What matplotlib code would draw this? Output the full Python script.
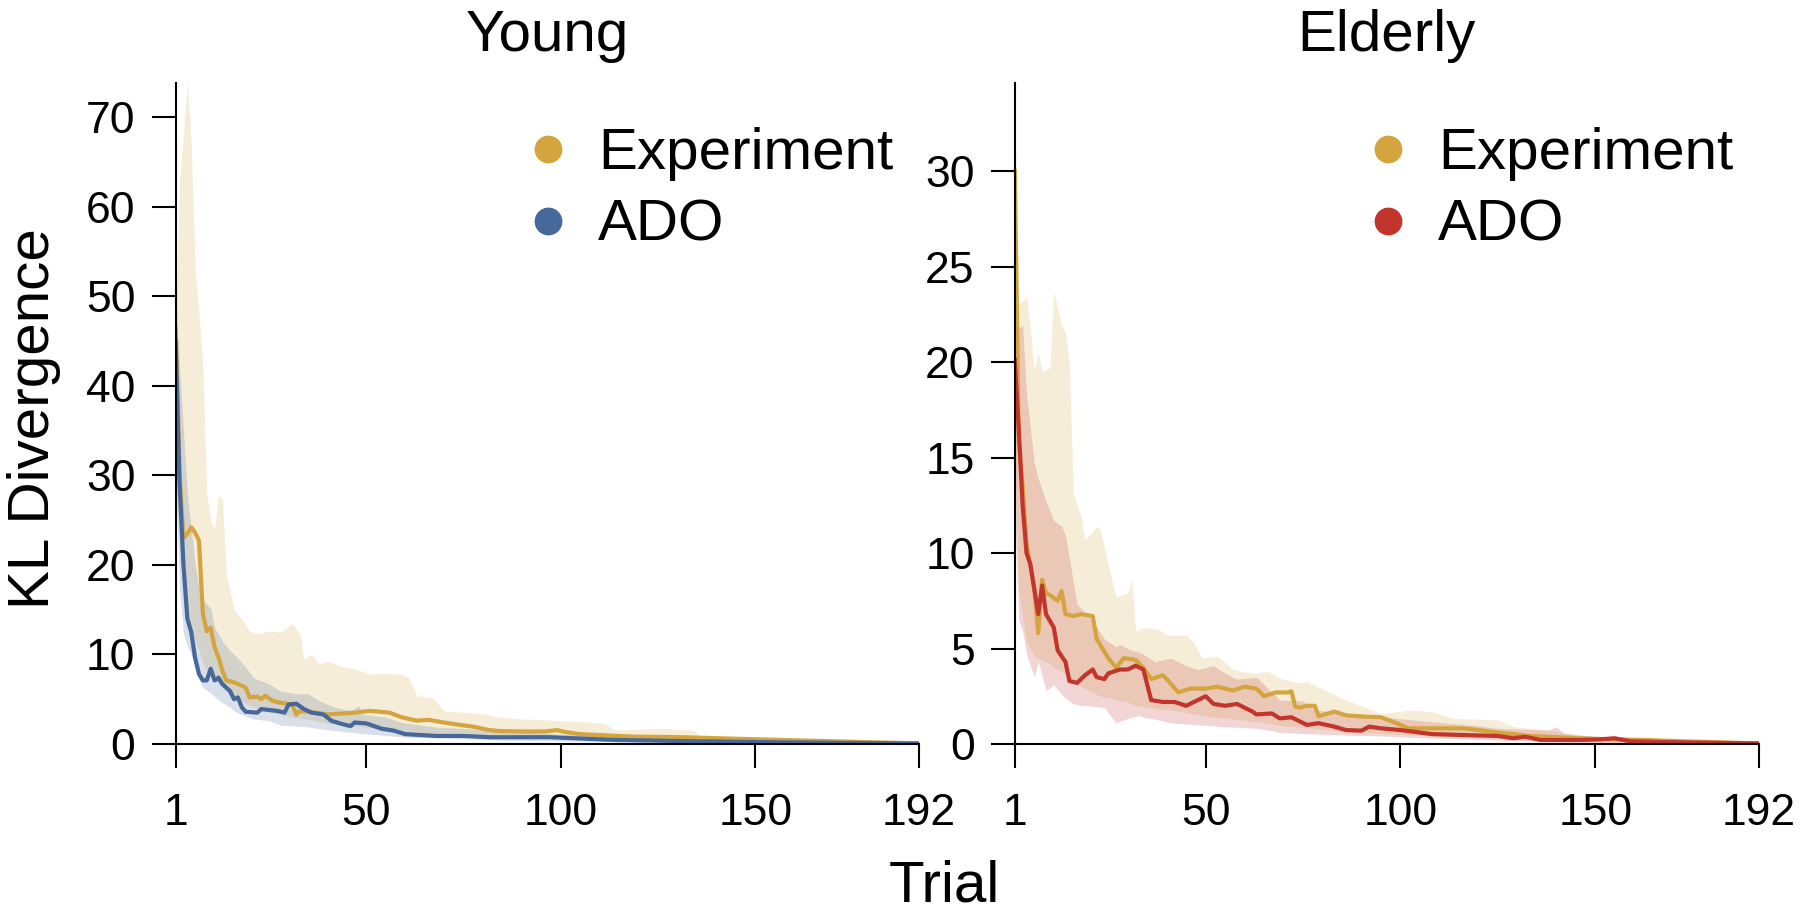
import matplotlib
matplotlib.use("Agg")
import matplotlib.pyplot as plt
import numpy as np
from matplotlib.lines import Line2D

plt.rcParams.update({"font.family": ["Liberation Sans", "DejaVu Sans"]})

GOLD, BLUE, RED = "#d4a53f", "#46689a", "#c1352d"
BAND_ALPHA = 0.2

# ---- Young -------------------------------------------------------------------------
young_exp_t = [1, 2, 3, 4, 5, 6, 7, 8, 9, 10, 11, 12, 13, 14, 16, 18, 19, 20, 22, 23, 24, 26, 28, 30,
               31, 32, 33, 37, 40, 47, 51, 56, 59, 63, 66, 70, 73, 78, 81, 84, 90, 96, 99, 101, 105,
               118, 131, 144, 157, 174, 192]
young_exp = [46.5, 30, 23.0, 23.5, 24.2, 23.6, 22.7, 14.5, 12.6, 13.0, 10.8, 9.7, 8.2, 7.1, 6.9, 6.5,
             6.3, 5.2, 5.3, 5.0, 5.4, 4.8, 4.6, 4.5, 4.4, 3.3, 3.7, 3.5, 3.3, 3.5, 3.7, 3.5, 3.0, 2.6,
             2.7, 2.4, 2.2, 1.9, 1.6, 1.45, 1.4, 1.4, 1.55, 1.35, 1.1, 0.83, 0.76, 0.6, 0.45, 0.26, 0.07]

young_ado_t = [1, 2, 3, 4, 5, 6, 7, 8, 9, 10, 11, 12, 13, 15, 16, 17, 18, 19, 22, 23, 27, 29, 30, 32,
               34, 36, 39, 41, 44, 46, 47, 50, 52, 54, 57, 60, 68, 75, 82, 97, 114, 131, 157, 192]
young_ado = [45, 29, 20, 14, 12.5, 9.6, 7.8, 7.1, 7.1, 8.4, 7.1, 7.4, 6.7, 5.9, 5.0, 5.2, 4.1, 3.6,
             3.5, 3.9, 3.7, 3.5, 4.4, 4.5, 3.9, 3.5, 3.3, 2.6, 2.2, 2.0, 2.4, 2.3, 2.0, 1.7, 1.5, 1.1,
             0.9, 0.9, 0.75, 0.76, 0.45, 0.33, 0.19, 0.05]

young_exp_band_t = [1, 2, 3, 4, 5, 6, 7, 8, 9, 10, 11, 12, 13, 14, 15, 16, 18, 20, 22, 25, 28, 31, 33,
                    34, 36, 38, 40, 44, 47, 51, 55, 59, 61, 63, 67, 70, 76, 80, 84, 88, 96, 105, 111,
                    114, 126, 134, 136, 148, 165, 180, 192]
young_exp_hi = [47, 63, 68, 74, 67, 53, 48, 42, 28, 25, 24, 27.7, 27.5, 19, 17, 15, 14, 12.6, 12.3,
                12.6, 12.5, 13.4, 12.3, 9.5, 10, 8.9, 9.3, 8.6, 8.4, 7.8, 7.9, 7.8, 7.4, 5.4, 5.2, 3.7,
                3.5, 3.4, 3.0, 2.85, 2.7, 2.5, 2.3, 1.55, 1.75, 1.55, 0.85, 0.6, 0.33, 0.18, 0.05]
young_exp_lo = [33, 22, 17, 14, 12.5, 11.5, 10.5, 9, 8, 7.5, 7, 6.8, 6.2, 5.8, 5.5, 5.2, 4.8, 4.3, 4.0,
                3.6, 3.3, 3.0, 2.9, 2.8, 2.7, 2.5, 2.3, 2.1, 2.0, 1.8, 1.6, 1.4, 1.3, 1.25, 1.15, 1.05,
                0.95, 0.9, 0.85, 0.8, 0.72, 0.6, 0.52, 0.48, 0.38, 0.32, 0.3, 0.22, 0.12, 0.06, 0.01]

young_ado_band_t = [1, 2, 3, 4, 5, 6, 7, 8, 10, 11, 13, 15, 16, 19, 21, 25, 28, 32, 35, 38, 42, 46, 48,
                    49, 51, 55, 59, 68, 84, 100, 114, 131, 150, 170, 192]
young_ado_hi = [50, 42, 35, 28, 24, 20, 17.5, 16, 15.2, 13, 11.5, 10.4, 10, 8.6, 7.4, 6.7, 5.9, 5.6,
                5.6, 4.8, 4.1, 3.7, 4.3, 3.3, 3.2, 3.0, 2.4, 1.9, 1.5, 1.1, 0.8, 0.55, 0.35, 0.2, 0.05]
young_ado_lo = [30, 17, 12.3, 11, 10, 8.8, 7.2, 6.3, 5.7, 5.3, 4.6, 4.1, 3.7, 3.1, 2.8, 2.6, 2.1, 2.0,
                1.9, 1.7, 1.5, 1.3, 1.2, 1.15, 1.1, 0.95, 0.8, 0.67, 0.45, 0.35, 0.26, 0.2, 0.14, 0.07,
                0.01]

# ---- Elderly -----------------------------------------------------------------------
old_exp_t = [1, 2, 3, 4, 5, 6, 7, 8, 9, 10, 12, 13, 14, 16, 18, 21, 22, 25, 27, 29, 32, 34, 36, 39, 40,
             43, 46, 50, 53, 57, 60, 63, 65, 68, 71, 72, 73, 74, 76, 78, 79, 83, 86, 91, 95, 98, 102,
             116, 120, 125, 129, 133, 138, 146, 155, 163, 176, 192]
old_exp = [30, 16, 13.5, 10.5, 9.3, 8.1, 5.8, 8.6, 7.9, 7.8, 7.5, 8.0, 6.8, 6.7, 6.8, 6.7, 5.5, 4.5,
           4.0, 4.5, 4.4, 4.0, 3.4, 3.6, 3.4, 2.7, 2.9, 2.9, 3.0, 2.8, 3.0, 2.9, 2.5, 2.7, 2.7, 2.75,
           1.95, 1.9, 2.0, 2.0, 1.45, 1.7, 1.5, 1.43, 1.4, 1.17, 0.82, 0.82, 0.73, 0.6, 0.52, 0.42,
           0.38, 0.3, 0.24, 0.21, 0.12, 0.03]

old_ado_t = [1, 2, 3, 4, 5, 6, 7, 8, 9, 11, 12, 14, 15, 17, 19, 21, 22, 24, 25, 28, 30, 32, 34, 36, 39,
             42, 45, 50, 52, 55, 58, 60, 62, 63, 67, 69, 72, 76, 79, 83, 86, 90, 92, 95, 100, 108, 116,
             125, 129, 132, 136, 146, 151, 155, 159, 168, 192]
old_ado = [20.1, 16.5, 12.5, 10, 9.4, 8.1, 6.8, 8.3, 6.8, 6.1, 4.9, 4.3, 3.3, 3.2, 3.6, 3.9, 3.5, 3.4,
           3.7, 3.9, 3.9, 4.1, 3.9, 2.3, 2.2, 2.2, 2.0, 2.5, 2.1, 2.0, 2.1, 1.9, 1.7, 1.55, 1.6, 1.34,
           1.4, 1.0, 1.09, 0.91, 0.73, 0.7, 0.91, 0.82, 0.73, 0.52, 0.47, 0.42, 0.3, 0.38, 0.21, 0.21,
           0.24, 0.3, 0.14, 0.1, 0.03]

old_exp_band_t = [1, 2, 4, 5, 6, 7, 8, 10, 11, 13, 14, 15, 16, 18, 19, 21, 22, 23, 26, 27, 30, 31, 32,
                  34, 38, 40, 45, 47, 49, 53, 57, 62, 66, 69, 74, 76, 86, 95, 103, 108, 114, 125, 129,
                  138, 146, 155, 172, 192]
old_exp_hi = [33, 23, 23.4, 21.7, 19.5, 20.5, 19.5, 19.7, 23.7, 21.9, 21.5, 19.9, 13.1, 11.9, 10.7,
              11.1, 11.4, 11.2, 8.5, 7.7, 7.9, 8.6, 5.9, 6.1, 6.0, 5.7, 5.7, 5.3, 4.5, 4.6, 3.9, 3.7,
              3.8, 3.44, 3.2, 3.27, 2.3, 1.6, 1.78, 1.69, 1.34, 1.26, 0.91, 0.73, 0.47, 0.3, 0.17, 0.03]
old_exp_lo = [15, 8, 5.3, 5.0, 4.6, 4.5, 4.4, 4.2, 4.0, 3.8, 3.6, 3.4, 3.2, 3.0, 2.9, 2.7, 2.6, 2.5,
              2.4, 2.3, 2.2, 2.1, 2.0, 1.95, 1.85, 1.8, 1.65, 1.55, 1.5, 1.4, 1.3, 1.2, 1.1, 0.95, 0.9,
              0.85, 0.65, 0.55, 0.47, 0.42, 0.38, 0.3, 0.27, 0.21, 0.16, 0.12, 0.06, 0.01]

old_ado_band_t = [1, 2, 3, 4, 6, 7, 9, 11, 13, 14, 16, 17, 20, 22, 24, 27, 28, 31, 33, 34, 37, 41, 45,
                  48, 52, 55, 58, 63, 67, 69, 75, 78, 86, 95, 103, 112, 120, 125, 138, 140, 142, 150,
                  163, 192]
old_ado_hi = [21, 21.8, 21.9, 18.3, 14.7, 13.9, 12.7, 11.7, 11.4, 10.9, 8.5, 7.3, 6.7, 6.1, 5.5, 5.1,
              5.2, 4.9, 4.8, 4.7, 4.3, 4.5, 4.1, 3.9, 4.1, 3.7, 3.4, 3.5, 2.7, 2.3, 2.25, 1.78, 1.6,
              1.43, 1.26, 1.09, 0.95, 0.82, 0.73, 0.91, 0.56, 0.38, 0.24, 0.03]
old_ado_lo = [12, 6.5, 5.9, 4.7, 3.5, 4.3, 2.8, 3.1, 2.6, 2.4, 2.1, 2.05, 2.0, 1.95, 1.9, 1.1, 1.2, 1.4,
              1.5, 1.4, 1.3, 1.1, 1.05, 1.0, 0.95, 0.9, 0.88, 0.82, 0.7, 0.6, 0.55, 0.52, 0.47, 0.42,
              0.35, 0.3, 0.24, 0.2, 0.12, 0.11, 0.1, 0.08, 0.05, 0.01]

x_ticks = [1, 50, 100, 150, 192]

panels = [
    dict(title="Young", col=BLUE, ylim=73.8, yticks=range(0, 71, 10),
         exp=(young_exp_t, young_exp), ado=(young_ado_t, young_ado),
         exp_band=(young_exp_band_t, young_exp_lo, young_exp_hi),
         ado_band=(young_ado_band_t, young_ado_lo, young_ado_hi)),
    dict(title="Elderly", col=RED, ylim=34.6, yticks=range(0, 31, 5),
         exp=(old_exp_t, old_exp), ado=(old_ado_t, old_ado),
         exp_band=(old_exp_band_t, old_exp_lo, old_exp_hi),
         ado_band=(old_ado_band_t, old_ado_lo, old_ado_hi)),
]

fig = plt.figure(figsize=(18, 9.14), dpi=100)
boxes = [(0.0976, 0.186, 0.4127, 0.723), (0.5638, 0.186, 0.4133, 0.723)]

for p, box in zip(panels, boxes):
    ax = fig.add_axes(box)
    t, lo, hi = p["exp_band"]
    ax.fill_between(t, lo, hi, color=GOLD, alpha=BAND_ALPHA, linewidth=0)
    t, lo, hi = p["ado_band"]
    ax.fill_between(t, lo, hi, color=p["col"], alpha=BAND_ALPHA, linewidth=0)
    ax.plot(*p["exp"], color=GOLD, lw=3.0)
    ax.plot(*p["ado"], color=p["col"], lw=3.0)

    ax.set_xlim(1, 192)
    ax.set_ylim(0, p["ylim"])
    ax.set_xticks(x_ticks)
    ax.set_yticks(list(p["yticks"]))
    for s in ("top", "right"):
        ax.spines[s].set_visible(False)
    for s in ("left", "bottom"):
        ax.spines[s].set_linewidth(1.5)
    ax.tick_params(length=17, width=1.5, labelsize=32, direction="out")
    ax.tick_params(axis="x", pad=18)
    ax.tick_params(axis="y", pad=12)

    handles = [Line2D([], [], ls="none", marker="o", ms=19, color=GOLD),
               Line2D([], [], ls="none", marker="o", ms=19, color=p["col"])]
    ax.legend(handles, ["Experiment", "ADO"], loc="upper left", bbox_to_anchor=(0.462, 0.933),
              frameon=False, fontsize=42, handlelength=1.0, handletextpad=0.36,
              labelspacing=0.3, borderpad=0, borderaxespad=0)

    cx = box[0] + box[2] / 2
    fig.text(cx, 1 - 36 / 914, p["title"], ha="center", va="center", fontsize=42)

fig.text(944 / 1800, 1 - 886 / 914, "Trial", ha="center", va="center", fontsize=42)
fig.text(34 / 1800, 1 - 419 / 914, "KL Divergence", ha="center", va="center",
         rotation=90, fontsize=42)

fig.savefig("out.png", dpi=100)
